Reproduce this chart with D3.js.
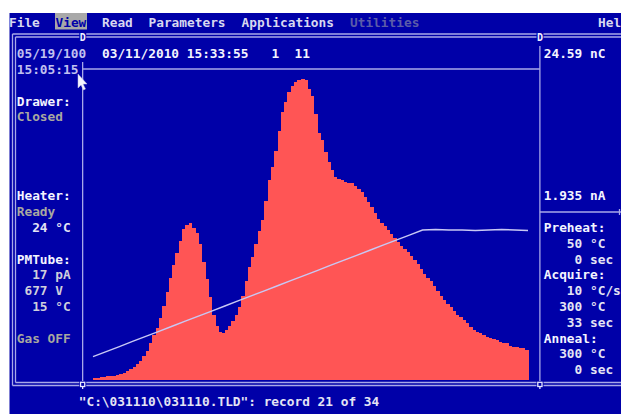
<!DOCTYPE html>
<html><head><meta charset="utf-8">
<script src="https://cdn.jsdelivr.net/npm/d3@7/dist/d3.min.js"></script>
<style>
html,body{margin:0;padding:0;background:#fff;}
svg{display:block;}
text{font-family:"DejaVu Sans Mono",monospace;font-weight:bold;font-size:12.8px;white-space:pre;}
</style></head><body>
<svg id="c" width="621" height="414"></svg>
<script>
// ---- data ----
const binSeconds = 0.25;
// glow curve current per 0.25 s bin (pA)
const glow = [13,16,19,19,26,26,26,32,39,48,58,68,84,100,122,154,186,238,289,334,
  399,476,566,656,739,817,894,971,997,1010,977,945,874,759,649,534,418,347,309,302,
  322,347,379,418,469,540,637,727,791,874,958,1029,1151,1286,1370,1472,1601,1723,1788,1852,
  1890,1916,1929,1935,1929,1871,1826,1710,1588,1543,1466,1402,1350,1305,1292,1286,1273,1267,1267,1247,
  1228,1209,1177,1145,1112,1074,1035,1010,990,965,939,913,887,862,842,823,797,772,746,714,
  682,656,637,604,572,540,514,489,469,444,418,405,386,367,341,322,309,302,289,276,
  270,264,257,244,238,238,219,212,212,206,206,193];
// heater temperature, one reading per second (°C)
const tempTimes = [0,1,2,3,4,5,6,7,8,9,10,11,12,13,14,15,16,17,18,19,20,21,22,23,24,25,26,27,28,29,30,31,32,33];
const temps = [50,60,70,80,90,100,110,120,130,140,150,160,170,180,190,200,210,220,230,240,250,260,270,280,290,300,301,300,300,299,300,301,300,299];

const menuItems = [["File",0],["View",6],["Read",12],["Parameters",18],["Applications",30],["Utilities",44],["Hel",76]];
const headerTexts = [
  {t:"05/19/100",c:1,r:2,k:"dim"},
  {t:"03/11/2010 15:33:55   1  11",c:12,r:2,k:"hi"},
  {t:"24.59 nC",c:69,r:2,k:"hi"},
  {t:"15:05:15",c:1,r:3,k:"dim"},
  {t:"1.935 nA",c:69,r:11,k:"hi"}
];
const leftPanel = [
  {t:"Drawer:",r:5,k:"hi"},{t:"Closed",r:6,k:"gray"},
  {t:"Heater:",r:11,k:"hi"},{t:"Ready",r:12,k:"gray"},{t:"  24 °C",r:13,k:"val"},
  {t:"PMTube:",r:15,k:"hi"},{t:"  17 pA",r:16,k:"val2"},{t:" 677 V",r:17,k:"val2"},{t:"  15 °C",r:18,k:"val2"},
  {t:"Gas OFF",r:20,k:"gray"}
];
const rightPanel = [
  {t:"Preheat:",r:13,k:"hi"},{t:"   50 °C",r:14,k:"val"},{t:"    0 sec",r:15,k:"val"},
  {t:"Acquire:",r:16,k:"hi"},{t:"   10 °C/s",r:17,k:"val"},{t:"  300 °C",r:18,k:"val"},{t:"   33 sec",r:19,k:"val"},
  {t:"Anneal:",r:20,k:"hi"},{t:"  300 °C",r:21,k:"val"},{t:"    0 sec",r:22,k:"val"}
];
const statusText = "\"C:\\031110\\031110.TLD\": record 21 of 34";

// ---- layout ----
const BLUE="#0000a8", LINE="#a8a8e8", RED="#ff5555";
const colors = {hi:"#f4f4ff", dim:"#c0c0f0", val:"#e4e4f4", val2:"#cfcfdc", gray:"#a8a8a0"};
const cx = c => 9 + 7.75*c;
const ry = r => 22 + 15.8*r;
const base = r => ry(r) + 4.5;

const svg = d3.select("#c");
svg.append("rect").attr("x",9.5).attr("y",13).attr("width",621).attr("height",414).attr("fill",BLUE);

// menu
menuItems.forEach(([t,c])=>{
  if(t==="View") svg.append("rect").attr("x",cx(c)-0.5).attr("y",13).attr("width",7.75*4+1).attr("height",16.5).attr("fill","#a8a8a8");
  svg.append("text").attr("x",cx(c)).attr("y",base(0))
    .attr("fill", t==="View"? BLUE : (t==="Utilities"? "#5c5ca8" : "#d8d8f0")).text(t);
});

// frame lines
const g = svg.append("g").attr("stroke",LINE).attr("stroke-width",1.3).attr("fill","none");
const L = (x1,y1,x2,y2)=>g.append("line").attr("x1",x1).attr("y1",y1).attr("x2",x2).attr("y2",y2);
L(12.5,34,621,34); L(15.5,37,621,37);            // top double
L(12.5,385.5,621,385.5); L(15.5,382.5,621,382.5); // bottom double
L(12.5,34,12.5,385.5); L(15.5,37,15.5,382.5);   // left double
L(cx(9)+3.9,62,cx(9)+3.9,382.5);                   // left panel divider
L(cx(9)+3.9,69,cx(68)+3.9,69);                     // under header
L(cx(68)+3.9,46,cx(68)+3.9,382.5);                 // right panel divider
L(cx(68)+3.9,212,621,212);                          // right panel split
L(619.5,209,619.5,215);

// D markers and bottom markers
[9,68].forEach(c=>{
  svg.append("rect").attr("x",cx(c)+0.5).attr("y",32).attr("width",7).attr("height",9).attr("fill",BLUE);
  svg.append("text").attr("x",cx(c)+4).attr("y",41).attr("text-anchor","middle").style("font-size","10px").attr("fill","#f0f0ff").text("D");
  svg.append("rect").attr("x",cx(c)+0.5).attr("y",381).attr("width",7).attr("height",8).attr("fill",BLUE);
  svg.append("rect").attr("x",cx(c)+1.8).attr("y",382.3).attr("width",4.2).attr("height",4.2).attr("fill","none").attr("stroke","#e8e8ff").attr("stroke-width",1.3);
  svg.append("line").attr("x1",cx(c)+3.9).attr("x2",cx(c)+3.9).attr("y1",386.5).attr("y2",389).attr("stroke","#e8e8ff").attr("stroke-width",1.3);
});

// texts
headerTexts.forEach(d=>svg.append("text").attr("x",cx(d.c)).attr("y",base(d.r)).attr("fill",colors[d.k]).text(d.t));
leftPanel.forEach(d=>svg.append("text").attr("x",cx(1)).attr("y",base(d.r)).attr("fill",colors[d.k]).text(d.t));
rightPanel.forEach(d=>svg.append("text").attr("x",cx(69)).attr("y",base(d.r)).attr("fill",colors[d.k]).text(d.t));
svg.append("text").attr("x",cx(9)).attr("y",base(24)).attr("fill","#e4e4f4").text(statusText);

// ---- chart ----
const x = d3.scaleLinear().domain([0,33]).range([93,528]);
const yG = d3.scaleLinear().domain([0,1935]).range([380,79]);
const yT = d3.scaleLinear().domain([0,300]).range([382,230]);

svg.append("g").selectAll("rect").data(glow).join("rect")
  .attr("x",(d,i)=>x(i*binSeconds))
  .attr("width",(d,i)=>x((i+1)*binSeconds)-x(i*binSeconds)+0.6)
  .attr("y",d=>yG(d))
  .attr("height",d=>yG(0)-yG(d))
  .attr("fill",RED).attr("shape-rendering","crispEdges");

const line = d3.line().x((d,i)=>x(tempTimes[i])).y(d=>yT(d));
svg.append("path").datum(temps).attr("d",line).attr("fill","none")
  .attr("stroke","#c8c8f4").attr("stroke-width",1.4);

// mouse pointer
svg.append("path").attr("d","M78,74 L78,88 L81,85 L83.5,90 L85.5,89 L83,84 L87,84 Z")
  .attr("fill","#f4f4ff").attr("stroke","#c0c0e0").attr("stroke-width",0.5);
</script>
</body></html>
